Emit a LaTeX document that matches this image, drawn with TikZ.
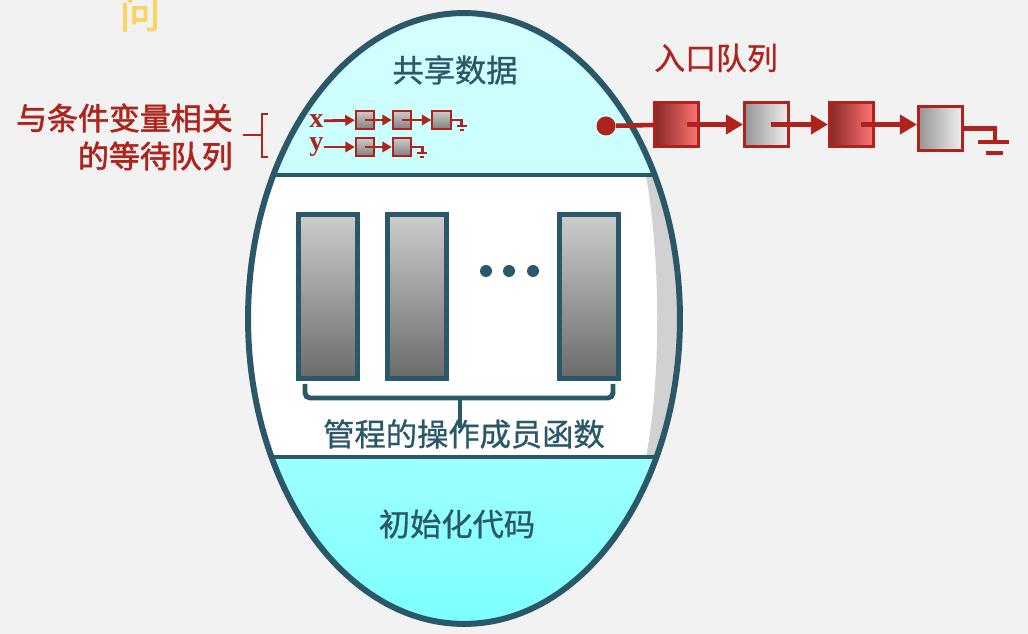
\documentclass[tikz,border=0pt]{standalone}
\usepackage{fontspec}
\newfontfamily\cjk[FakeBold=0.9]{Noto Sans CJK SC}
\newfontfamily\cjkheavy[FakeBold=1.8]{Noto Sans CJK SC}
\newfontfamily\serifb{Liberation Serif}
\usetikzlibrary{arrows.meta, positioning}
\definecolor{mteal}{HTML}{2A5868}
\definecolor{mred}{HTML}{AE231B}
\definecolor{bggray}{HTML}{F2F2F2}
\definecolor{qyellow}{HTML}{FBD35E}
\tikzset{
  bigtxt/.style = {font=\cjk\fontsize{17.8}{21}\selectfont, text=mteal, inner sep=0pt},
  redtxt/.style = {font=\cjk\fontsize{17.6}{21.6}\selectfont, text=mred, inner sep=0pt},
  labeltxt/.style = {font=\cjkheavy\fontsize{17.6}{21.6}\selectfont, text=mred, inner sep=0pt},
  vartxt/.style = {font=\serifb\bfseries\fontsize{16}{16}\selectfont, text=mred, inner sep=0pt},
  proc/.style = {draw=mteal, line width=2.8pt, top color=black!20, bottom color=black!58,
    minimum width=1.18cm, minimum height=3.28cm, inner sep=0pt},
  cell/.style = {draw=mred, line width=1.1pt, top color=black!20, bottom color=black!50,
    minimum size=0.37cm, inner sep=0pt},
  redbox/.style = {draw=mred, line width=1.7pt, left color=red!45!black!85, right color=red!60!white!90,
    minimum size=0.88cm, inner sep=0pt},
  graybox/.style = {draw=mred, line width=1.7pt, left color=black!42, right color=black!6,
    minimum size=0.88cm, inner sep=0pt},
  link/.style = {mred, line width=3.1pt, -{Triangle[length=0.34cm, width=0.38cm]}},
  smalllink/.style = {mred, line width=1.6pt, -{Triangle[length=0.19cm, width=0.21cm]}},
  wall/.style = {mteal, line width=2.8pt},
}
\begin{document}
\begin{tikzpicture}[x=0.02cm, y=-0.02cm]
\useasboundingbox (0,0) rectangle (1028,634);
\fill[bggray] (0,0) rectangle (1028,634);

% the monitor
\begin{scope}
  \clip (464,318.5) ellipse [x radius=4.32cm, y radius=6.11cm];
  \shade[top color=cyan!17, bottom color=cyan!21] (200,0) rectangle (720,175);
  \fill[white] (200,175) rectangle (720,457);
  \fill[black!18] (646,176) .. controls (661,260) and (661,380) .. (646,457)
    -- (720,457) -- (720,176) -- cycle;
  \shade[top color=cyan!38, bottom color=cyan!52] (200,457) rectangle (720,634);
  \draw[wall] (200,175) -- (720,175);
  \draw[wall] (200,457) -- (720,457);
\end{scope}
\draw[mteal, line width=3.4pt] (464,318.5) ellipse [x radius=4.32cm, y radius=6.11cm];

\node[qyellow, font=\cjkheavy\fontsize{23}{23}\selectfont, inner sep=0pt] (wen) at (140,13) {问};

\node[bigtxt] (shared) at (455,70) {共享数据};
\node[bigtxt] (init) at (457,524) {初始化代码};

% operation procedures
\node[proc] (p1) at (328,296.5) {};
\node[proc] (p2) at (417,296.5) {};
\node[proc] (p3) at (589,296.5) {};
\foreach \dx in {486,509,533}
  \fill[mteal] (\dx,271) circle (0.12cm);
\draw[wall, rounded corners=0.1cm] (305,384) |- (460,398) -| (613,384);
\draw[wall] (460,398) -- (460,428);
\node[bigtxt] (ops) at (464,434) {管程的操作成员函数};

% condition queues
\node[vartxt] (vx) at (316.5,121) {x};
\node[vartxt] (vy) at (316.5,147) {y};
\node[cell] (x1) at (365,120) {};
\node[cell] (x2) at (402,120) {};
\node[cell] (x3) at (441.5,120) {};
\node[cell] (y1) at (365,147) {};
\node[cell] (y2) at (402,147) {};
\draw[smalllink] (vx) -- (x1);
\draw[smalllink] (x1.center) -- (x2);
\draw[smalllink] (x2.center) -- (x3);
\draw[smalllink] (vy.east |- y1) -- (y1);
\draw[smalllink] (y1.center) -- (y2);
\draw[mred, line width=1.6pt] (x3.east) -- ++(10,0) -- ++(0,6)
  ++(-5,0) -- ++(10,0) ++(-7,4) -- ++(4,0);
\draw[mred, line width=1.6pt] (y2.east) -- ++(10,0) -- ++(0,6)
  ++(-5,0) -- ++(10,0) ++(-7,4) -- ++(4,0);

\node[labeltxt, align=right, anchor=east] (condq) at (233,137) {与条件变量相关\\的等待队列};
\draw[mred, line width=1.7pt] (268,114) -- (262,114) -- (262,157) -- (268,157);
\draw[mred, line width=1.7pt] (243,135) -- (262,135);

% entry queue
\node[redtxt] (entryq) at (716,58) {入口队列};
\node[redbox] (q1) at (676.5,124.5) {};
\node[graybox, right=0.86cm of q1] (q2) {};
\node[redbox, right=0.76cm of q2] (q3) {};
\node[graybox, right=0.84cm of q3, yshift=-0.08cm] (q4) {};
\node[circle, fill=mred, minimum size=0.38cm, inner sep=0pt] (entry) at (606,126) {};
\draw[mred, line width=2.6pt] (entry) -- (q1);
\draw[link] ([xshift=0.2cm]q1.center) -- (q2.west);
\draw[link] ([xshift=0.1cm]q2.center) -- (q3.west);
\draw[link] ([xshift=0.2cm]q3.center) -- (q3.center -| q4.west);
\coordinate (gnd) at (995,142);
\draw[mred, line width=2.8pt] (q4.east) -| (gnd);
\draw[mred, line width=2.8pt] ([xshift=-0.34cm]gnd) -- ([xshift=0.28cm]gnd);
\draw[mred, line width=2.8pt] (986,153) -- (1003,153);
\end{tikzpicture}
\end{document}
